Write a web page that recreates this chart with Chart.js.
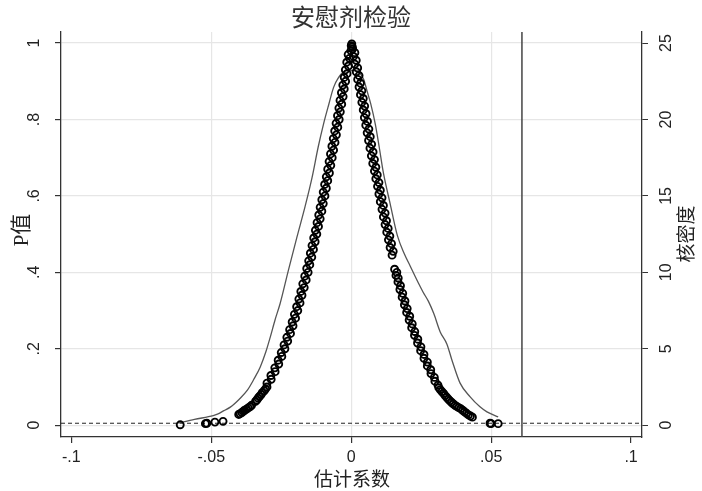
<!DOCTYPE html>
<html>
<head>
<meta charset="utf-8">
<title>安慰剂检验</title>
<script src="https://cdn.jsdelivr.net/npm/chart.js@4.4.1/dist/chart.umd.min.js"></script>
<style>
  html, body { margin: 0; padding: 0; background: #fff; }
  #wrap { width: 702px; height: 491px; }
</style>
</head>
<body>
<div id="wrap"><canvas id="chart" width="702" height="491"></canvas></div>
<script>
// placebo regressions: estimated coefficient and its p value (left branch, coef < 0)
const coefLeft = [0.0002,0.0000,0.0004,-0.0001,-0.0011,-0.0006,-0.0016,-0.0010,-0.0021,-0.0015,-0.0025,-0.0020,-0.0030,
  -0.0025,-0.0035,-0.0029,-0.0040,-0.0034,-0.0044,-0.0039,-0.0049,-0.0043,-0.0054,-0.0048,-0.0059,-0.0053,-0.0064,
  -0.0058,-0.0069,-0.0063,-0.0074,-0.0068,-0.0079,-0.0073,-0.0084,-0.0078,-0.0089,-0.0084,-0.0095,-0.0089,-0.0100,
  -0.0094,-0.0105,-0.0100,-0.0111,-0.0105,-0.0116,-0.0111,-0.0122,-0.0117,-0.0128,-0.0123,-0.0134,-0.0129,-0.0140,
  -0.0135,-0.0146,-0.0141,-0.0152,-0.0148,-0.0159,-0.0154,-0.0166,-0.0161,-0.0173,-0.0168,-0.0180,-0.0176,-0.0187,
  -0.0183,-0.0195,-0.0191,-0.0203,-0.0199,-0.0211,-0.0208,-0.0220,-0.0217,-0.0230,-0.0227,-0.0240,-0.0237,-0.0250,
  -0.0248,-0.0261,-0.0259,-0.0273,-0.0272,-0.0287,-0.0286,-0.0301,-0.0301,
  -0.0306,-0.0311,-0.0318,-0.0322,-0.0328,-0.0333,-0.0337,-0.0342,-0.0356,-0.0362,-0.0368,-0.0374,-0.0381,-0.0386,
  -0.0391,-0.0397,-0.0402,-0.0458,-0.0487,-0.0516,-0.0521,-0.0611];
const pLeft = [0.998,0.993,0.990,0.98,0.97,0.96,0.95,0.94,0.93,0.92,0.91,0.90,0.89,
  0.88,0.87,0.86,0.85,0.84,0.83,0.82,0.81,0.80,0.79,0.78,0.77,0.76,0.75,
  0.74,0.73,0.72,0.71,0.70,0.69,0.68,0.67,0.66,0.65,0.64,0.63,0.62,0.61,
  0.60,0.59,0.58,0.57,0.56,0.55,0.54,0.53,0.52,0.51,0.50,0.49,0.48,0.47,
  0.46,0.45,0.44,0.43,0.42,0.41,0.40,0.39,0.38,0.37,0.36,0.35,0.34,0.33,
  0.32,0.31,0.30,0.29,0.28,0.27,0.26,0.25,0.24,0.23,0.22,0.21,0.20,0.19,
  0.18,0.17,0.16,0.15,0.14,0.13,0.12,0.11,0.10,
  0.095,0.090,0.085,0.080,0.075,0.071,0.066,0.062,0.052,0.048,0.045,0.042,0.039,0.036,
  0.033,0.030,0.028,0.010,0.008,0.005,0.004,0.001];

// right branch, coef > 0
const coefRight = [0.0005,0.0013,0.0008,0.0018,0.0013,0.0023,0.0018,0.0028,0.0023,0.0033,0.0028,0.0038,0.0033,
  0.0043,0.0038,0.0048,0.0043,0.0053,0.0047,0.0058,0.0052,0.0063,0.0057,0.0068,0.0062,0.0073,0.0067,0.0078,
  0.0072,0.0083,0.0077,0.0088,0.0083,0.0093,0.0088,0.0099,0.0094,0.0104,0.0099,0.0110,0.0104,0.0115,0.0110,
  0.0121,0.0115,0.0126,0.0121,0.0132,0.0127,0.0138,0.0133,0.0144,0.0139,0.0150,0.0146,
  0.0155,0.0163,0.0160,0.0168,0.0167,0.0176,0.0174,0.0184,0.0182,0.0192,0.0190,0.0200,0.0198,0.0209,0.0207,
  0.0218,0.0216,0.0227,0.0226,0.0238,0.0237,0.0249,0.0248,0.0260,0.0260,0.0272,0.0272,0.0284,0.0285,0.0297,
  0.0299,0.0310,
  0.0313,0.0318,0.0324,0.0330,0.0335,0.0341,0.0347,0.0352,0.0358,0.0364,0.0371,0.0377,0.0384,0.0391,0.0398,
  0.0405,0.0412,0.0419,0.0426,0.0433,0.0496,0.0500,0.0525];
const pRight = [0.985,0.975,0.965,0.955,0.945,0.935,0.925,0.915,0.905,0.895,0.885,0.875,0.865,
  0.855,0.845,0.835,0.825,0.815,0.805,0.795,0.785,0.775,0.765,0.755,0.745,0.735,0.725,0.715,
  0.705,0.695,0.685,0.675,0.665,0.655,0.645,0.635,0.625,0.615,0.605,0.595,0.585,0.575,0.565,
  0.555,0.545,0.535,0.525,0.515,0.505,0.495,0.485,0.475,0.465,0.455,0.445,
  0.408,0.400,0.392,0.385,0.375,0.365,0.355,0.345,0.335,0.325,0.315,0.305,0.295,0.285,0.275,
  0.265,0.255,0.245,0.235,0.225,0.215,0.205,0.195,0.185,0.175,0.165,0.155,0.145,0.135,0.125,
  0.115,0.105,
  0.098,0.093,0.088,0.083,0.078,0.073,0.068,0.064,0.060,0.056,0.052,0.049,0.046,0.043,0.039,
  0.035,0.031,0.027,0.024,0.021,0.005,0.004,0.004];

// kernel density of the placebo coefficients (right axis)
const kdX = [-0.0618,-0.0560,-0.0493,-0.0478,-0.0455,-0.0432,-0.0400,-0.0371,-0.0348,-0.0325,-0.0305,-0.0289,
  -0.0272,-0.0254,-0.0225,-0.0194,-0.0165,-0.0140,-0.0118,-0.0099,-0.0080,-0.0063,-0.0045,-0.0028,-0.0010,
  0.0008,0.0020,0.0032,0.0045,0.0056,0.0070,0.0086,0.0100,0.0115,0.0139,0.0165,0.0190,0.0211,0.0240,0.0257,
  0.0276,0.0295,0.0318,0.0342,0.0360,0.0389,0.0425,0.0460,0.0485,0.0525];
const kdY = [0.13,0.38,0.62,0.72,0.95,1.18,1.70,2.29,3.0,3.81,4.8,5.78,
  6.9,7.96,10.1,12.3,14.3,16.2,18.2,19.7,21.0,22.1,22.75,23.1,23.2,
  23.2,23.15,23.0,22.6,21.9,21.0,19.7,18.2,16.5,14.5,12.4,11.2,10.4,9.3,8.7,
  8.1,7.3,6.1,5.3,4.25,2.75,1.85,1.2,0.87,0.54];

const trueCoef = 0.061;   // real estimate (vertical line)
const pCut = 0.005;       // dashed reference line

const xTicks = [-0.1, -0.05, 0, 0.05, 0.1];
const xTickLabels = ['-.1', '-.05', '0', '.05', '.1'];
const yTicks = [0, 0.2, 0.4, 0.6, 0.8, 1];
const yTickLabels = ['0', '.2', '.4', '.6', '.8', '1'];
const y2Ticks = [0, 5, 10, 15, 20, 25];
const y2TickLabels = ['0', '5', '10', '15', '20', '25'];

const xMin = -0.1037, xMax = 0.1039;
const yMin = -0.031, yMax = 1.029;

const tickFont = '16px "Liberation Sans", Arial, sans-serif';
const axisColor = '#333';
const gridColor = '#e6e6e6';

function drawRotated(ctx, text, x, y) {
    ctx.save();
    ctx.translate(x, y);
    ctx.rotate(-Math.PI / 2);
    ctx.fillText(text, 0, 0);
    ctx.restore();
}

const textPlugin = {
    id: 'stataText',
    afterDraw(chart) {
        const ctx = chart.ctx;
        const sy = chart.scales.y;
        const sy2 = chart.scales.y2;
        const area = chart.chartArea;
        ctx.save();
        ctx.fillStyle = '#222';
        ctx.textAlign = 'center';
        ctx.textBaseline = 'middle';
        ctx.font = tickFont;
        yTicks.forEach((v, i) => drawRotated(ctx, yTickLabels[i], 35, sy.getPixelForValue(v)));
        y2Ticks.forEach((v, i) => drawRotated(ctx, y2TickLabels[i], 667, sy2.getPixelForValue(v)));

        // axis titles
        ctx.font = '21px "Liberation Serif", "Noto Sans CJK SC", serif';
        drawRotated(ctx, 'P值', 22, 230);
        ctx.font = '19px "Noto Sans CJK SC", sans-serif';
        drawRotated(ctx, '核密度', 686, 234);
        ctx.fillText('估计系数', (area.left + area.right) / 2 + 0.5, 479);

        // chart title
        ctx.fillStyle = '#333';
        ctx.font = '24px "Noto Sans CJK SC", sans-serif';
        ctx.fillText('安慰剂检验', 351, 17);
        ctx.restore();
    }
};

const scatterPoints = coefLeft.map((c, i) => ({ x: c, y: pLeft[i] }))
    .concat(coefRight.map((c, i) => ({ x: c, y: pRight[i] })));
const densityPoints = kdX.map((c, i) => ({ x: c, y: kdY[i] }));

new Chart(document.getElementById('chart'), {
    type: 'scatter',
    data: {
        datasets: [
            {
                label: 'P值',
                data: scatterPoints,
                yAxisID: 'y',
                pointStyle: 'circle',
                pointRadius: 3.5,
                pointBorderWidth: 1.9,
                borderColor: '#000',
                backgroundColor: 'rgba(0,0,0,0)',
                order: 0
            },
            {
                label: '核密度',
                data: densityPoints,
                yAxisID: 'y2',
                showLine: true,
                pointRadius: 0,
                borderColor: '#555',
                borderWidth: 1.3,
                cubicInterpolationMode: 'monotone',
                order: 1
            },
            {
                label: 'cut',
                data: [{ x: xMin, y: pCut }, { x: xMax, y: pCut }],
                yAxisID: 'y',
                showLine: true,
                pointRadius: 0,
                borderColor: '#222',
                borderWidth: 1,
                borderDash: [4, 3],
                order: 2
            },
            {
                label: 'true',
                data: [{ x: trueCoef, y: yMin }, { x: trueCoef, y: yMax }],
                yAxisID: 'y',
                showLine: true,
                pointRadius: 0,
                borderColor: '#444',
                borderWidth: 1.5,
                order: 3
            }
        ]
    },
    options: {
        responsive: false,
        animation: false,
        events: [],
        layout: { padding: { top: 32, left: 0, right: 0, bottom: 0 } },
        plugins: {
            legend: { display: false },
            tooltip: { enabled: false },
            title: { display: false }
        },
        scales: {
            x: {
                type: 'linear',
                min: xMin,
                max: xMax,
                afterBuildTicks: s => { s.ticks = xTicks.map(v => ({ value: v })); },
                afterFit: s => { s.height = 54; },
                ticks: {
                    callback: (v, i) => xTickLabels[i],
                    font: { family: '"Liberation Sans", Arial, sans-serif', size: 16 },
                    color: '#222',
                    padding: 5,
                    maxRotation: 0
                },
                grid: {
                    color: c => (c.tick && Math.abs(c.tick.value) > 0.09) ? 'rgba(0,0,0,0)' : gridColor,
                    tickColor: axisColor,
                    tickLength: 6,
                    lineWidth: 1.2
                },
                border: { display: true, color: axisColor, width: 1.3 }
            },
            y: {
                type: 'linear',
                position: 'left',
                min: yMin,
                max: yMax,
                afterBuildTicks: s => { s.ticks = yTicks.map(v => ({ value: v })); },
                afterFit: s => { s.width = 61; },
                ticks: { display: false },
                grid: {
                    color: gridColor,
                    tickColor: axisColor,
                    tickLength: 6,
                    lineWidth: 1.2
                },
                border: { display: true, color: axisColor, width: 1.3 }
            },
            y2: {
                type: 'linear',
                position: 'right',
                min: yMin * 25,
                max: yMax * 25,
                afterBuildTicks: s => { s.ticks = y2Ticks.map(v => ({ value: v })); },
                afterFit: s => { s.width = 60; },
                ticks: { display: false },
                grid: {
                    drawOnChartArea: false,
                    tickColor: axisColor,
                    tickLength: 6
                },
                border: { display: true, color: axisColor, width: 1.3 }
            }
        }
    },
    plugins: [textPlugin]
});
</script>
</body>
</html>
